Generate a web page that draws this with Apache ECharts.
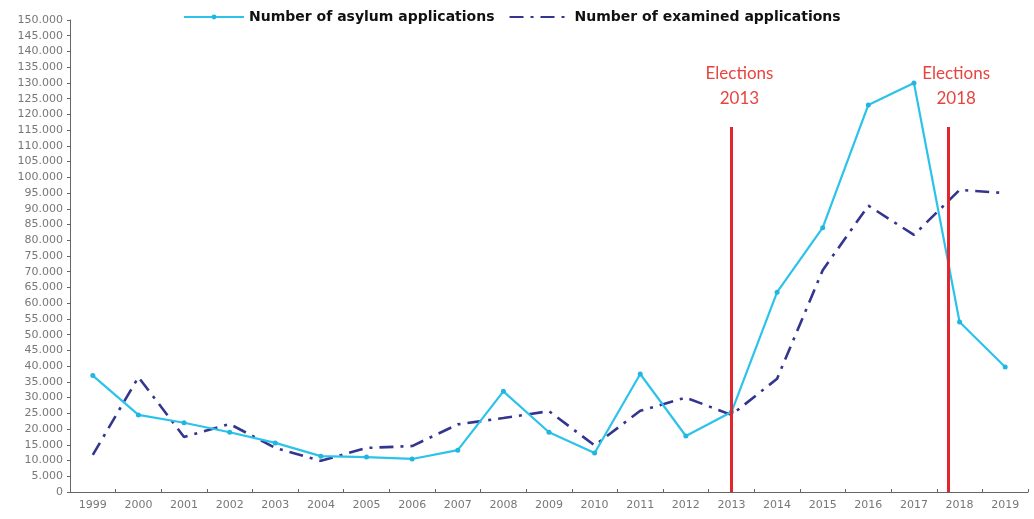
<!DOCTYPE html>
<html>
<head>
<meta charset="utf-8">
<script src="https://cdn.jsdelivr.net/npm/echarts@6/dist/echarts.min.js"></script>
<style>
  html, body { margin: 0; padding: 0; background: #fff; }
  #chart { width: 1034px; height: 519px; }
</style>
</head>
<body>
<div id="chart"></div>
<script>
// years on the x axis
const years = ["1999", "2000", "2001", "2002", "2003", "2004", "2005", "2006", "2007", "2008",
  "2009", "2010", "2011", "2012", "2013", "2014", "2015", "2016", "2017", "2018", "2019"];

const asylumApps = [37000, 24500, 22000, 19000, 15600, 11400, 11100, 10500, 13300, 32000,
  19000, 12400, 37500, 17800, 25400, 63500, 84000, 123000, 130000, 54000, 39700];
const examinedApps = [11800, 36500, 17500, 21600, 14000, 9900, 14000, 14600, 21500, 23500,
  25700, 14800, 25800, 30000, 24500, 36000, 70500, 91000, 81700, 96000, 95000];

// election markers: position on the category scale (0..21) and label
const electionPos = [14.5, 19.25];
const electionText = ["Elections\n2013", "Elections\n2018"];
const electionTop = 116000;

const fmtThousands = (v) => String(v).replace(/\B(?=(\d{3})+(?!\d))/g, ".");

const chart = echarts.init(document.getElementById("chart"));

const markLines = electionPos.map((p, i) => [
  { coord: [p, 0] },
  {
    coord: [p, electionTop],
    label: { formatter: electionText[i] },
  },
]);

chart.setOption({
  animation: false,
  legend: {
    top: 5,
    left: 178,
    itemGap: 14,
    itemWidth: 60,
    itemHeight: 6,
    data: [
      { name: "Number of asylum applications" },
      { name: "Number of examined applications", itemStyle: { opacity: 0 } },
    ],
    textStyle: { fontFamily: "DejaVu Sans", fontWeight: "bold", fontSize: 14, color: "#111" },
  },
  grid: { left: 70, right: 6, top: 20, bottom: 27 },
  xAxis: [
    {
      type: "category",
      data: years,
      boundaryGap: true,
      axisLine: { lineStyle: { color: "#666", width: 1 } },
      axisTick: { show: true, inside: true, length: 3, lineStyle: { color: "#666" } },
      axisLabel: { fontFamily: "DejaVu Sans", fontSize: 11, color: "#777", margin: 8 },
    },
    {
      type: "value",
      min: 0,
      max: years.length,
      show: false,
    },
  ],
  yAxis: {
    type: "value",
    min: 0,
    max: 150000,
    interval: 5000,
    splitLine: { show: false },
    axisLine: { show: true, lineStyle: { color: "#666", width: 1 } },
    axisTick: { show: true, length: 3, lineStyle: { color: "#666" } },
    axisLabel: {
      fontFamily: "DejaVu Sans",
      fontSize: 11,
      color: "#777",
      margin: 7,
      formatter: fmtThousands,
    },
  },
  series: [
    {
      name: "Number of asylum applications",
      type: "line",
      data: asylumApps,
      color: "#2cc3ea",
      symbol: "circle",
      symbolSize: 5,
      lineStyle: { width: 2.2, color: "#2cc3ea" },
      itemStyle: { color: "#22b5e0" },
      z: 3,
    },
    {
      name: "Number of examined applications",
      type: "line",
      data: examinedApps,
      color: "#33358f",
      symbol: "none",
      lineStyle: { width: 2.6, color: "#33358f", type: [14, 7, 3, 7] },
      z: 2,
    },
    {
      name: "elections",
      type: "line",
      xAxisIndex: 1,
      data: [],
      symbol: "none",
      markLine: {
        silent: true,
        symbol: "none",
        animation: false,
        lineStyle: { color: "#e3262b", width: 3, type: "solid" },
        label: {
          show: true,
          position: "end",
          distance: 16,
          offset: [8, 0],
          color: "#e8443f",
          fontFamily: "Lato",
          fontSize: 17,
          lineHeight: 25,
          align: "center",
        },
        data: markLines,
      },
      z: 4,
    },
  ],
});
</script>
</body>
</html>
